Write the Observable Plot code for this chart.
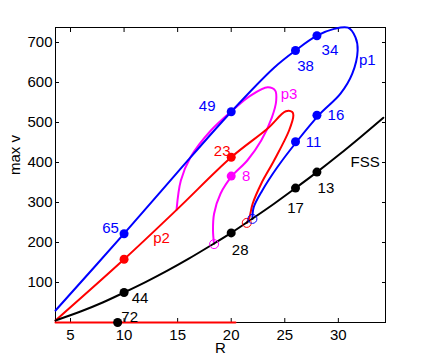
<!DOCTYPE html>
<html><head><meta charset="utf-8">
<script src="https://cdn.jsdelivr.net/npm/d3@7"></script>
<script src="https://cdn.jsdelivr.net/npm/@observablehq/plot@0.6"></script>
<style>body{margin:0;background:#fff}</style>
</head><body><div id="chart"></div>
<script>
// ---- data ----
const xTicks = [5, 10, 15, 20, 25, 30];
const yTicks = [100, 200, 300, 400, 500, 600, 700];

const fssR = [3.6, 6, 8, 10, 12, 14, 16, 18, 20, 22, 24, 26, 28, 30, 32, 34.2];
const fssV = [5, 28, 50, 75, 101, 129, 159, 191, 224, 260, 297, 336, 376, 418, 462, 512];

const zeroR = [3.6, 20.4];
const zeroV = [0, 0];

const p1R = [3.6, 10, 15, 20, 24, 26, 28, 29.6, 30.9, 31.6, 31.8, 31.3, 30.2, 28.2, 26.2, 24.3, 22.9, 22.1, 21.98];
const p1V = [30, 222, 376, 527, 637, 680, 717, 734, 737, 713, 680, 622, 572, 519, 455, 388, 330, 288, 259];

const p2R = [3.6, 10, 15, 20, 23.4, 25.1, 25.7, 25.8, 25.4, 24, 22.8, 22, 21.7, 21.45];
const p2V = [5, 158, 284, 413, 485, 528, 526, 518, 480, 405, 347, 297, 263, 249];

const p3R = [14.9, 15.3, 16.2, 18.1, 20.1, 21.8, 23.4, 24.1, 24.2, 23.8, 22.8, 21.5, 20.1, 19, 18.4, 18.3, 18.4];
const p3V = [282, 355, 413, 480, 530, 567, 588, 580, 555, 513, 455, 405, 367, 322, 272, 230, 196];

const fssDotR = [10, 20, 26, 28, 9.4];
const fssDotV = [75, 224, 336, 376, 0];
const fssDotLabel = ["44", "28", "17", "13", "72"];

const p1DotR = [10, 20, 26, 28, 28, 26];
const p1DotV = [222, 527, 680, 717, 518, 452];
const p1DotLabel = ["65", "49", "38", "34", "16", "11"];

const p2DotR = [10, 20];
const p2DotV = [158, 413];
const p2DotLabel = ["", "23"];

const p3DotR = [20];
const p3DotV = [366];
const p3DotLabel = ["8"];

// bifurcation points (open circles) on FSS
const bifR = [18.4, 21.45, 21.98];
const bifV = [196, 249, 259];

const curveNames = ["p1", "p2", "p3", "FSS"];
const curveNameR = [32.7, 13.5, 25.4, 32.5];
const curveNameV = [655, 210, 570, 400];

// ---- layout (label offsets in px) ----
const fssOff = [[16, 6], [9, 17], [0, 20], [9, 16], [12, -5]];
const p1Off = [[-13.5, -6], [-24, -6], [10, 16], [13, 14], [19, 0], [18, 0]];
const p2Off = [[0, 0], [-9, -6]];
const p3Off = [[15, 0]];

const BLUE = "#0000ff", RED = "#ff0000", MAG = "#ff00ff", BLK = "#000000";

const idx = a => a.map((_, i) => i);
function line(R, V, color) {
  return Plot.line(idx(R), {x: i => R[i], y: i => V[i], stroke: color, strokeWidth: 2, curve: "catmull-rom"});
}
function dots(R, V, color) {
  return Plot.dot(idx(R), {x: i => R[i], y: i => V[i], r: 4.5, fill: color, stroke: "none"});
}
function labels(R, V, L, off, color) {
  return idx(R).filter(i => L[i]).map(i =>
    Plot.text([i], {x: j => R[j], y: j => V[j], text: j => L[j], fill: color, dx: off[i][0], dy: off[i][1]}));
}

const chart = Plot.plot({
  width: 425, height: 363,
  marginLeft: 55, marginRight: 40, marginTop: 27, marginBottom: 41,
  x: {domain: [3.6, 34.4]},
  y: {domain: [0, 737.5]},
  style: {fontFamily: "'Liberation Sans', Arial, Helvetica, sans-serif", fontSize: "15px", background: "#fff", overflow: "visible"},
  marks: [
    Plot.axisX({ticks: xTicks, anchor: "bottom", tickSize: -4, tickPadding: 11, label: null, fontSize: 15}),
    Plot.axisX({ticks: xTicks, anchor: "top", tickSize: -4, tickFormat: () => "", label: null}),
    Plot.axisY({ticks: yTicks, anchor: "left", tickSize: -4, tickPadding: 7, label: null, fontSize: 15}),
    Plot.axisY({ticks: yTicks, anchor: "right", tickSize: -4, tickFormat: () => "", label: null}),
    Plot.frame({stroke: BLK, strokeWidth: 1}),
    line(zeroR, zeroV, RED),
    line(p3R, p3V, MAG),
    line(p2R, p2V, RED),
    line(p1R, p1V, BLUE),
    line(fssR, fssV, BLK),
    Plot.dot([0], {x: () => bifR[0], y: () => bifV[0], r: 4.5, stroke: MAG, fill: "none", strokeWidth: 1}),
    Plot.dot([0], {x: () => bifR[1], y: () => bifV[1], r: 4.5, stroke: RED, fill: "none", strokeWidth: 1}),
    Plot.dot([0], {x: () => bifR[2], y: () => bifV[2], r: 4.5, stroke: BLUE, fill: "none", strokeWidth: 1}),
    dots(fssDotR, fssDotV, BLK),
    dots(p1DotR, p1DotV, BLUE),
    dots(p2DotR, p2DotV, RED),
    dots(p3DotR, p3DotV, MAG),
    ...labels(fssDotR, fssDotV, fssDotLabel, fssOff, BLK),
    ...labels(p1DotR, p1DotV, p1DotLabel, p1Off, BLUE),
    ...labels(p2DotR, p2DotV, p2DotLabel, p2Off, RED),
    ...labels(p3DotR, p3DotV, p3DotLabel, p3Off, MAG),
    Plot.text(idx(curveNames), {x: i => curveNameR[i], y: i => curveNameV[i], text: i => curveNames[i],
      fill: i => [BLUE, RED, MAG, BLK][i]}),
    Plot.text(["R"], {frameAnchor: "bottom", dy: 30, text: d => d, fill: BLK}),
    Plot.text(["max v"], {frameAnchor: "left", dx: -40, rotate: -90, text: d => d, fill: BLK})
  ]
});
document.getElementById("chart").appendChild(chart);
</script>
</body></html>
